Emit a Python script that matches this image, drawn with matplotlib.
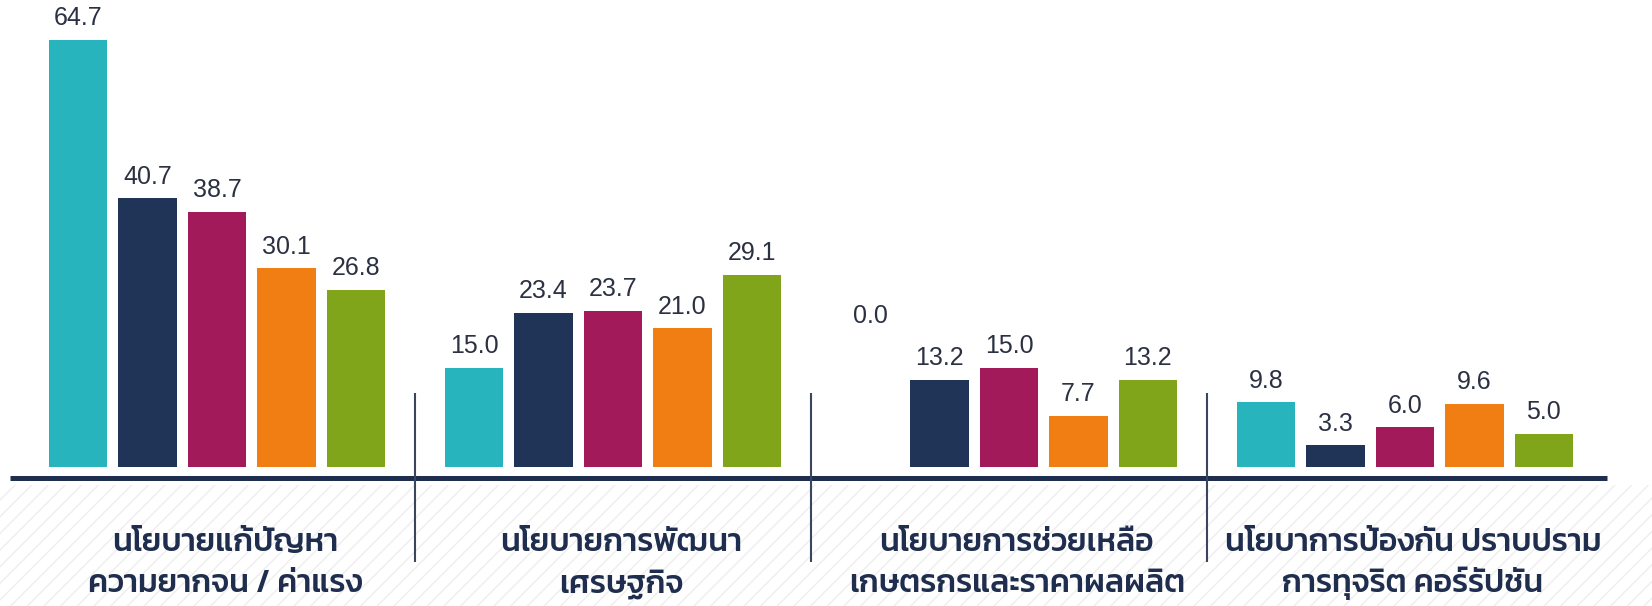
import matplotlib
matplotlib.use("Agg")
from matplotlib import pyplot as plt
from matplotlib.patches import Rectangle
import numpy as np

categories = [
    ["นโยบายแก้ปัญหา", "ความยากจน / ค่าแรง"],
    ["นโยบายการพัฒนา", "เศรษฐกิจ"],
    ["นโยบายการช่วยเหลือ", "เกษตรกรและราคาผลผลิต"],
    ["นโยบาการป้องกัน ปราบปราม", "การทุจริต คอร์รัปชัน"],
]
series_a = [64.7, 15.0, 0.0, 9.8]
series_b = [40.7, 23.4, 13.2, 3.3]
series_c = [38.7, 23.7, 15.0, 6.0]
series_d = [30.1, 21.0, 7.7, 9.6]
series_e = [26.8, 29.1, 13.2, 5.0]
series = [series_a, series_b, series_c, series_d, series_e]
colors = ["#27b4bd", "#203457", "#a21a5a", "#f07e12", "#80a41a"]

text_dark = "#2b3142"
navy = "#1f2e4e"

fig = plt.figure(figsize=(16.52, 6.06), dpi=100)
fig.patch.set_facecolor("white")

ax = fig.add_axes([0, 0, 1, 1])
ax.set_facecolor("none")
ax.set_xlim(-0.548, 3.624)
ax.set_ylim(-21.06, 70.76)
ax.axis("off")

# faint diagonal stripes in the lower band
ax.add_patch(Rectangle((0, 0), 1, 0.2, transform=ax.transAxes,
                       facecolor="none", edgecolor="#eeeeee",
                       hatch="//", linewidth=0, zorder=0))

x = np.arange(len(categories))
step, width = 0.1755, 0.147
for j, (vals, c) in enumerate(zip(series, colors)):
    xs = x + (j - 2) * step
    ax.bar(xs, vals, width=width, color=c, zorder=3)
    for xi, v in zip(xs, vals):
        # the 0.0 label floats above the empty slot in the original
        ly = v if v > 0 else 19.6
        ax.annotate(f"{v:.1f}", (xi, ly), xytext=(0, 7), textcoords="offset points",
                    ha="center", va="bottom", fontsize=18, color=text_dark,
                    family="Liberation Sans")

ax.hlines(-1.67, -0.523, 3.51, color=navy, linewidth=3.6, zorder=4)
for s in x[:-1] + 0.5:
    ax.vlines(s, -14.4, 11.2, color="#3a4560", linewidth=1.5, zorder=4)

for xi, (l1, l2) in zip(x, categories):
    ax.text(xi + 0.02, -12.8, l1, ha="center", va="baseline", fontsize=23,
            family="Kanit", weight=500, color=navy, zorder=5)
    ax.text(xi + 0.02, -19.0, l2, ha="center", va="baseline", fontsize=23,
            family="Kanit", weight=500, color=navy, zorder=5)

fig.savefig("out.png", dpi=100)
